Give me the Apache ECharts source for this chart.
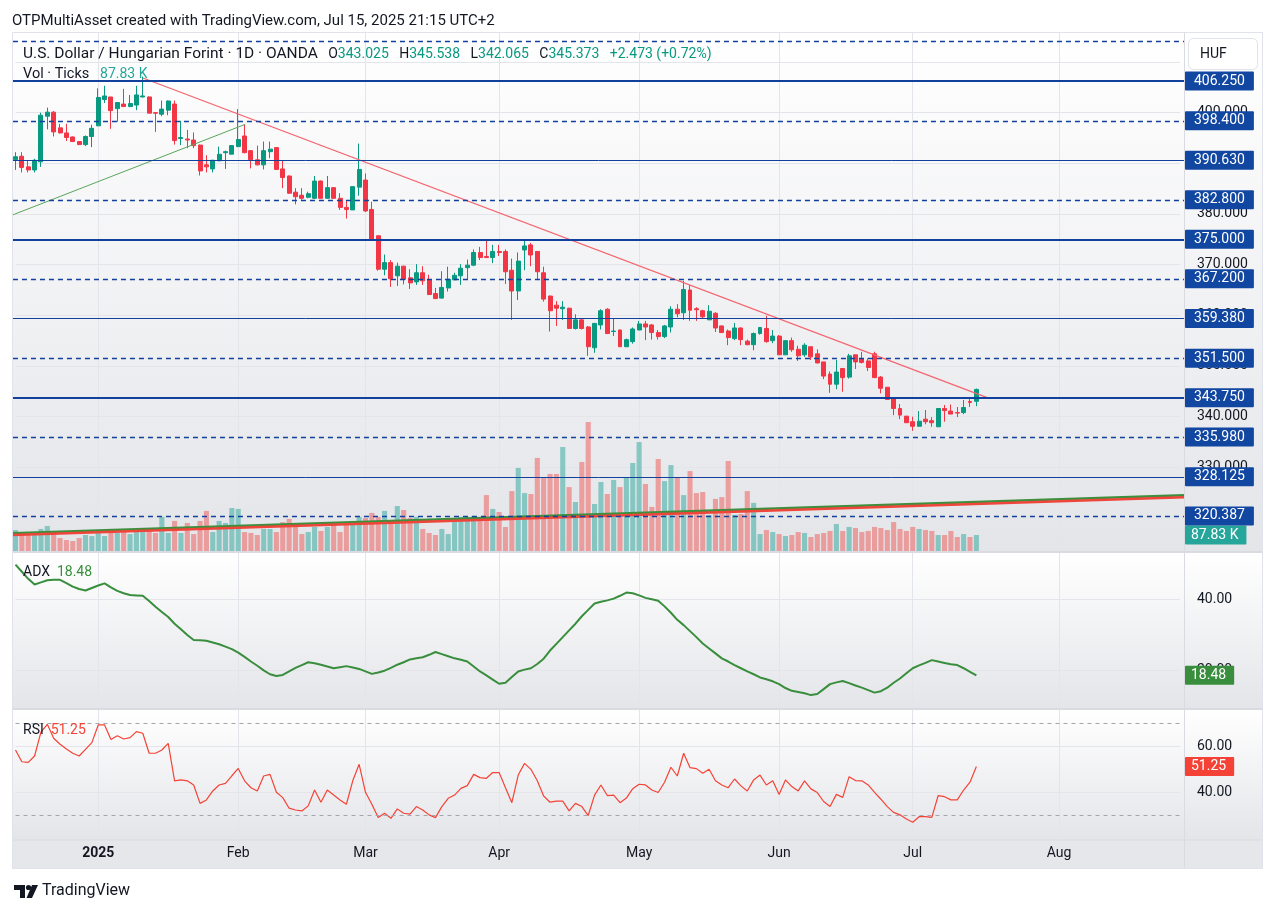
<!DOCTYPE html>
<html>
<head>
<meta charset="utf-8">
<title>USDHUF 1D</title>
<script src="https://cdn.jsdelivr.net/npm/echarts@6/dist/echarts.min.js"></script>
<style>
  html, body { margin: 0; padding: 0; background: #fff; }
  #chart { width: 1274px; height: 913px; }
</style>
</head>
<body>
<div id="chart"></div>
<script>
// trading days: weekdays between these dates, minus the days OANDA has no bar
const firstDay = '2024-12-12'
const lastDay = '2025-08-28'
const noBarDays = ['2024-12-25', '2025-01-01']
const monthTicks = ['2025', 'Feb', 'Mar', 'Apr', 'May', 'Jun', 'Jul', 'Aug', 'Sep', 'Oct', 'Nov', 'Dec']

// [open, close, low, high]
const candles = [
  [390.7, 391.3, 388.7, 392.2], [391.4, 389.2, 388.2, 392.2], [389.3, 388.7, 388.2, 390.6], [388.7, 390.6, 388.2, 390.9],
  [390.3, 399.5, 389.3, 400.0], [399.3, 400.1, 396.7, 401.0], [400.1, 396.2, 395.3, 400.3], [397.0, 396.0, 395.9, 397.8],
  [396.0, 395.1, 394.4, 397.8], [395.2, 394.3, 394.2, 395.3], [394.3, 393.7, 393.6, 394.4], [393.7, 395.3, 393.4, 395.5],
  [395.3, 396.9, 393.2, 397.6], [397.4, 403.0, 397.4, 404.8], [402.6, 403.3, 401.9, 405.3], [403.1, 400.4, 396.8, 403.1],
  [400.8, 402.0, 398.2, 402.1], [401.7, 401.2, 401.2, 404.7], [401.2, 401.8, 401.1, 403.5], [401.5, 403.5, 400.5, 405.3],
  [403.1, 403.3, 403.0, 407.1], [403.1, 399.9, 399.9, 403.2], [400.0, 399.9, 396.2, 400.1], [399.7, 400.7, 399.3, 402.4],
  [400.5, 402.3, 399.5, 402.4], [401.7, 394.5, 393.7, 402.4], [394.9, 395.1, 393.6, 398.4], [394.8, 394.6, 393.0, 396.6],
  [394.6, 393.5, 393.0, 396.1], [393.6, 388.5, 387.6, 393.7], [389.7, 389.3, 388.2, 391.6], [388.9, 390.6, 388.2, 390.7],
  [390.5, 391.8, 390.4, 393.3], [392.1, 392.3, 388.9, 392.5], [391.8, 393.5, 391.8, 393.6], [393.3, 394.7, 393.2, 400.7],
  [395.4, 392.1, 392.0, 397.7], [392.5, 390.7, 389.0, 392.6], [390.7, 389.7, 389.6, 393.5], [389.7, 392.5, 388.8, 394.3],
  [392.3, 392.8, 391.0, 394.3], [393.1, 388.8, 388.7, 393.2], [388.9, 387.2, 385.1, 390.6], [387.5, 384.1, 384.0, 387.6],
  [384.3, 383.4, 381.9, 385.1], [383.7, 383.1, 382.8, 385.1], [383.3, 384.0, 383.1, 384.4], [383.1, 386.5, 383.0, 387.5],
  [386.5, 383.1, 383.0, 386.6], [383.1, 385.2, 383.0, 387.5], [385.2, 383.1, 383.0, 385.3], [383.1, 381.3, 380.8, 384.1],
  [381.3, 380.9, 379.1, 382.7], [380.8, 385.4, 380.8, 385.4], [385.3, 388.8, 383.6, 393.9], [386.7, 380.6, 380.4, 388.0],
  [380.9, 375.0, 375.0, 382.4], [375.7, 369.1, 368.8, 375.7], [369.1, 370.4, 367.9, 372.0], [370.4, 367.2, 365.6, 370.9],
  [367.8, 369.7, 365.8, 370.4], [369.7, 367.1, 366.1, 369.8], [367.4, 366.4, 365.2, 369.1], [366.6, 368.4, 366.0, 370.1],
  [368.4, 366.8, 366.0, 369.7], [367.0, 364.1, 364.0, 368.0], [364.3, 363.3, 363.2, 365.4], [363.4, 365.5, 363.3, 368.7],
  [365.4, 367.1, 364.7, 369.6], [367.0, 367.9, 367.0, 368.4], [367.8, 369.3, 366.0, 370.1], [369.4, 369.9, 367.1, 371.0],
  [369.9, 372.4, 369.7, 373.0], [372.4, 371.4, 370.9, 373.5], [371.6, 371.4, 371.3, 375.0], [371.4, 372.6, 370.3, 373.9],
  [372.6, 372.4, 371.7, 373.9], [372.6, 368.6, 366.2, 373.0], [368.9, 364.8, 359.1, 371.2], [364.8, 370.7, 363.0, 372.4],
  [372.9, 373.7, 368.9, 374.9], [373.9, 371.9, 369.7, 374.3], [372.6, 368.6, 367.0, 372.7], [368.4, 363.2, 362.7, 369.6],
  [363.8, 360.9, 356.8, 363.9], [362.0, 361.4, 357.9, 362.8], [361.3, 361.6, 359.1, 362.8], [361.4, 357.4, 357.3, 361.5],
  [357.4, 359.1, 357.2, 360.2], [359.1, 357.4, 357.2, 359.2], [357.7, 353.8, 352.0, 357.9], [353.6, 358.4, 352.6, 358.5],
  [358.1, 360.9, 357.2, 361.2], [361.2, 356.4, 356.3, 361.4], [356.8, 356.9, 355.9, 359.3], [357.1, 353.8, 353.8, 357.2],
  [353.8, 355.2, 353.8, 355.4], [354.8, 357.3, 354.4, 357.6], [357.1, 358.3, 357.1, 358.9], [358.3, 357.7, 355.1, 358.9],
  [358.1, 356.6, 355.2, 358.3], [356.6, 355.8, 355.2, 357.1], [355.8, 357.9, 355.5, 358.1], [357.7, 361.2, 356.6, 361.8],
  [361.2, 360.3, 359.6, 362.2], [360.5, 365.1, 359.1, 366.8], [365.0, 361.0, 358.9, 366.0], [361.3, 361.1, 358.9, 361.6],
  [360.9, 359.7, 359.4, 361.1], [359.1, 360.8, 359.1, 362.0], [360.4, 357.5, 356.7, 360.6], [357.9, 356.6, 356.5, 358.0],
  [356.9, 355.6, 354.1, 357.2], [355.4, 357.5, 355.1, 358.5], [357.5, 355.2, 354.1, 357.6], [354.9, 354.2, 354.1, 355.2],
  [354.2, 356.4, 353.1, 356.6], [356.4, 357.6, 356.2, 357.6], [357.4, 354.8, 354.6, 359.9], [355.0, 355.9, 354.5, 357.1],
  [355.9, 352.2, 352.2, 356.1], [352.2, 355.0, 352.2, 355.1], [355.0, 353.2, 352.8, 355.6], [353.3, 352.0, 351.0, 354.0],
  [352.2, 354.1, 351.8, 354.5], [353.8, 351.8, 351.2, 353.8], [352.4, 350.6, 350.5, 353.3], [350.8, 348.0, 347.4, 350.8],
  [348.4, 346.4, 344.7, 348.9], [346.4, 348.8, 345.4, 351.2], [349.5, 347.7, 344.9, 349.5], [347.8, 352.0, 347.5, 352.4],
  [352.2, 350.8, 349.4, 352.2], [351.4, 350.7, 350.5, 352.8], [351.0, 349.7, 349.0, 351.5], [352.4, 347.7, 347.7, 352.8],
  [347.8, 345.6, 344.6, 348.0], [345.8, 343.4, 343.3, 345.8], [343.6, 341.6, 340.3, 343.6], [341.6, 340.3, 339.5, 342.5],
  [340.1, 338.8, 338.8, 340.1], [339.0, 338.1, 337.2, 340.0], [338.1, 339.1, 338.1, 341.1], [339.5, 339.0, 338.5, 341.3],
  [339.2, 338.8, 338.0, 339.9], [338.0, 341.6, 338.0, 341.6], [341.6, 341.2, 339.0, 342.3], [341.1, 340.5, 340.5, 342.4],
  [340.8, 340.7, 339.9, 341.9], [340.8, 341.8, 340.5, 343.3], [343.0, 342.8, 341.9, 343.8], [343.025, 345.373, 342.065, 345.538]
]

// volume, thousands of ticks
const volumes = [
  115, 93, 88, 104, 121, 137, 110, 71, 60, 55,
  71, 88, 82, 99, 82, 121, 99, 104, 93, 104,
  104, 110, 99, 187, 99, 165, 99, 154, 93, 165,
  220, 104, 165, 154, 236, 231, 104, 99, 88, 121,
  121, 104, 159, 176, 137, 93, 104, 132, 110, 132,
  159, 104, 143, 143, 187, 181, 209, 187, 220, 170,
  247, 225, 181, 187, 121, 99, 88, 121, 93, 159,
  187, 187, 192, 176, 307, 231, 214, 132, 329, 456,
  318, 313, 511, 401, 423, 423, 571, 351, 269, 489,
  708, 258, 379, 313, 390, 351, 401, 483, 598, 368,
  242, 505, 384, 472, 401, 307, 439, 318, 324, 198,
  286, 296, 494, 198, 203, 329, 264, 93, 115, 104,
  93, 82, 88, 104, 99, 77, 93, 99, 110, 148,
  110, 132, 126, 104, 110, 132, 126, 115, 159, 121,
  110, 132, 121, 115, 110, 88, 88, 110, 77, 93,
  77, 87.83
]

const adx = [
  49.8, 47.8, 45.8, 44.2, 44.8, 45.4, 45.5, 45.5, 44.6, 43.6,
  42.9, 42.5, 43.2, 43.9, 44.5, 43.4, 42.4, 41.7, 41.2, 41.1,
  41.0, 39.5, 37.9, 36.4, 35.0, 33.1, 31.5, 29.9, 28.5, 28.4,
  28.3, 27.8, 27.3, 26.6, 25.9, 24.9, 23.7, 22.4, 21.2, 19.9,
  18.8, 18.3, 18.6, 19.6, 20.6, 21.4, 22.2, 21.9, 21.5, 21.0,
  20.5, 20.8, 21.1, 20.7, 20.3, 19.6, 18.9, 19.3, 19.8, 20.6,
  21.5, 22.2, 23.0, 23.3, 23.6, 24.3, 25.1, 24.5, 23.9, 23.3,
  22.9, 22.4, 21.0, 19.6, 18.5, 17.3, 16.1, 16.4, 18.0, 19.6,
  20.1, 20.5, 21.7, 23.2, 25.5, 27.4, 29.3, 31.2, 33.1, 35.2,
  37.0, 38.8, 39.3, 39.7, 40.2, 41.0, 41.9, 41.7, 41.1, 40.4,
  40.0, 39.6, 38.0, 36.2, 34.2, 32.7, 31.0, 29.3, 27.5, 26.1,
  24.7, 23.3, 22.4, 21.4, 20.5, 19.6, 18.8, 17.9, 17.4, 16.8,
  16.0, 14.9, 14.1, 13.8, 13.4, 12.9, 13.2, 14.6, 16.0, 16.5,
  16.9, 16.3, 15.6, 15.0, 14.3, 13.6, 14.0, 15.0, 16.4, 17.6,
  19.1, 20.5, 21.3, 22.0, 22.8, 22.4, 22.0, 21.6, 21.4, 20.5,
  19.5, 18.48
]

const rsi = [
  58.4, 53.3, 53.0, 55.8, 66.2, 69.6, 63.5, 60.9, 58.8, 57.0,
  55.8, 58.7, 61.6, 69.3, 69.3, 63.0, 64.6, 63.2, 63.8, 66.4,
  65.7, 57.0, 57.0, 58.4, 61.3, 45.0, 45.4, 45.0, 43.2, 35.2,
  36.7, 40.6, 43.2, 43.9, 47.2, 50.4, 45.0, 42.0, 40.6, 47.1,
  47.8, 40.0, 37.7, 33.1, 32.3, 31.9, 34.1, 41.0, 35.7, 41.0,
  38.8, 36.7, 34.8, 45.0, 52.2, 40.0, 34.8, 29.0, 30.9, 28.7,
  32.8, 30.9, 30.5, 33.8, 32.3, 30.2, 29.0, 33.8, 37.4, 38.8,
  41.7, 42.9, 47.8, 46.4, 46.1, 48.6, 48.6, 42.0, 35.5, 47.5,
  52.6, 50.0, 45.0, 38.4, 35.7, 36.2, 36.2, 31.9, 35.2, 33.8,
  29.9, 38.8, 43.2, 38.6, 38.8, 35.5, 37.5, 41.6, 43.5, 43.2,
  41.0, 39.9, 44.4, 50.9, 47.1, 57.0, 50.7, 50.3, 48.3, 50.0,
  45.0, 43.2, 42.0, 45.8, 42.8, 40.6, 45.4, 47.5, 43.2, 45.0,
  39.1, 45.4, 42.5, 40.6, 45.0, 41.5, 39.9, 36.0, 33.8, 39.1,
  37.8, 46.8, 45.1, 45.0, 43.2, 40.0, 37.0, 33.8, 31.3, 30.2,
  28.4, 27.0, 29.4, 29.4, 29.1, 38.6, 38.1, 36.7, 36.7, 41.0,
  44.4, 51.25
]

// horizontal levels drawn on the chart
const levelsThick = [406.25, 375.0, 343.75]
const levelsThin = [390.63, 359.38, 328.125]
const levelsDashed = [414.08, 398.4, 382.8, 367.2, 351.5, 335.98, 320.387]
const hiddenLevelLabels = [414.08] // sits under the currency button
const priceTicks = [320, 330, 340, 350, 360, 370, 380, 390, 400, 410]
const adxTicks = [20, 40]
const rsiTicks = [40, 60]
const rsiBands = [70, 30]

// trend line drawings, [bar index, price]
const paneSpan = [-0.4, 183.6]
const downTrend = [[20.03, 406.85], [153.1, 343.55]]
const upTrend = [[-0.4, 379.84], [36.1, 397.7]]
const baseTrendGreen = [[-0.4, 317.0], [183.6, 324.5]]
const baseTrendRed = [[-0.4, 316.65], [183.6, 324.1]]

const FONT = 'Roboto, "Liberation Sans", "DejaVu Sans", sans-serif'
const TEXT = '#131722'
const GRID_LINE = '#e3e5ea'
const UP = '#089981'
const DOWN = '#f23645'
const LEVEL = '#12409d'
const LEVEL_LABEL = '#1146a1'
const PRICE_MIN = 313.478
const PRICE_MAX = 415.725

function buildDates() {
  const out = []
  const d = new Date(firstDay + 'T00:00:00Z')
  const end = new Date(lastDay + 'T00:00:00Z')
  while (d <= end) {
    const wd = d.getUTCDay()
    const s = d.toISOString().slice(0, 10)
    if (wd !== 0 && wd !== 6 && noBarDays.indexOf(s) < 0) out.push(s)
    d.setUTCDate(d.getUTCDate() + 1)
  }
  return out
}
const dates = buildDates()

function isMonthStart(index) {
  return index > 0 && dates[index].slice(5, 7) !== dates[index - 1].slice(5, 7)
}

function timeAxis(gridIndex, showGrid, showLabels) {
  return {
    type: 'category',
    gridIndex,
    data: dates,
    boundaryGap: false,
    axisLine: { show: false },
    axisTick: { show: false },
    axisLabel: showLabels
      ? {
          show: true,
          interval: isMonthStart,
          margin: 7,
          color: TEXT,
          fontSize: 14,
          fontFamily: FONT,
          formatter: (value) => {
            const m = Number(value.slice(5, 7))
            return m === 1 ? '{b|' + monthTicks[0] + '}' : monthTicks[m - 1]
          },
          rich: { b: { fontWeight: 'bold', fontSize: 14, color: TEXT, fontFamily: FONT } }
        }
      : { show: false },
    splitLine: { show: showGrid, interval: isMonthStart, lineStyle: { color: GRID_LINE, width: 1 } }
  }
}

function scaleAxis(gridIndex, min, max, ticks, digits) {
  return {
    type: 'value',
    gridIndex,
    position: 'right',
    min,
    max,
    axisLine: { show: false },
    axisTick: { show: false, customValues: ticks },
    axisLabel: {
      customValues: ticks,
      margin: 17,
      color: TEXT,
      fontSize: 14,
      fontFamily: FONT,
      formatter: (v) => v.toFixed(digits)
    },
    splitLine: { show: true, lineStyle: { color: GRID_LINE, width: 1 } }
  }
}

function valueTag(value, text, bg, distance) {
  return {
    yAxis: value,
    lineStyle: { color: 'rgba(0,0,0,0)' },
    label: {
      show: true,
      position: 'end',
      distance,
      formatter: text,
      backgroundColor: bg,
      color: '#ffffff',
      fontSize: 14,
      fontFamily: FONT,
      padding: [3, 8, 2, 6],
      borderRadius: 1
    }
  }
}

function levelLine(v, style) {
  return [
    {
      coord: [paneSpan[0], v],
      lineStyle: style,
      label: {
        show: hiddenLevelLabels.indexOf(v) < 0,
        position: 'end',
        distance: 1,
        formatter: v.toFixed(3),
        backgroundColor: LEVEL_LABEL,
        color: '#ffffff',
        fontSize: 14,
        fontFamily: FONT,
        padding: [3, 9, 2, 9],
        borderRadius: 1
      }
    },
    { coord: [paneSpan[1], v] }
  ]
}

const levelMarks = [].concat(
  levelsThick.map((v) => levelLine(v, { color: LEVEL, width: 2, type: 'solid' })),
  levelsThin.map((v) => levelLine(v, { color: LEVEL, width: 1, type: 'solid' })),
  levelsDashed.map((v) => levelLine(v, { color: LEVEL, width: 1.3, type: [5, 4] }))
)

function paneGradient(top, bottom) {
  return new echarts.graphic.LinearGradient(0, 0, 0, 1, [
    { offset: 0, color: top },
    { offset: 1, color: bottom }
  ])
}

function drawing(name, data, color, width, extra) {
  return Object.assign({
    name,
    type: 'line',
    xAxisIndex: 4,
    yAxisIndex: 4,
    clip: false,
    symbol: 'none',
    silent: true,
    data,
    lineStyle: { color, width }
  }, extra || {})
}

const chart = echarts.init(document.getElementById('chart'), null, { renderer: 'canvas' })

const graphic = [
  // pane backgrounds
  { type: 'rect', z: -10, shape: { x: 12, y: 33, width: 1251, height: 519 }, style: { fill: paneGradient('#ffffff', '#e4e5e9') } },
  { type: 'rect', z: -10, shape: { x: 12, y: 552, width: 1251, height: 157 }, style: { fill: paneGradient('#ffffff', '#e4e5e9') } },
  { type: 'rect', z: -10, shape: { x: 12, y: 709, width: 1251, height: 131 }, style: { fill: paneGradient('#ffffff', '#e4e5e9') } },
  { type: 'rect', z: -10, shape: { x: 12, y: 840, width: 1251, height: 29 }, style: { fill: '#e6e7ea' } },
  // separators and frame
  { type: 'line', z: 50, shape: { x1: 12, y1: 552, x2: 1263, y2: 552 }, style: { stroke: '#d9dbe1', lineWidth: 2 } },
  { type: 'line', z: 50, shape: { x1: 12, y1: 709, x2: 1263, y2: 709 }, style: { stroke: '#d9dbe1', lineWidth: 2 } },
  { type: 'line', z: 50, shape: { x1: 12, y1: 840, x2: 1263, y2: 840 }, style: { stroke: '#d9dbe1', lineWidth: 1 } },
  { type: 'line', z: 50, shape: { x1: 1184.5, y1: 33, x2: 1184.5, y2: 869 }, style: { stroke: '#d9dbe1', lineWidth: 1 } },
  { type: 'rect', z: 50, shape: { x: 12.5, y: 32.5, width: 1250, height: 836 }, style: { fill: 'none', stroke: '#e0e3eb', lineWidth: 1 } },
  // header
  {
    type: 'text', z: 100, x: 12, y: 21,
    style: { text: 'OTPMultiAsset created with TradingView.com, Jul 15, 2025 21:15 UTC+2', font: '15px ' + FONT, fill: TEXT, verticalAlign: 'middle' }
  },
  {
    type: 'text', z: 100, x: 23, y: 54,
    style: {
      text: '{t|U.S. Dollar / Hungarian Forint · 1D · OANDA}{d|   O}{g|343.025}{d|   H}{g|345.538}{d|   L}{g|342.065}{d|   C}{g|345.373}{g|   +2.473 (+0.72%)}',
      font: '14px ' + FONT,
      verticalAlign: 'middle',
      rich: {
        t: { fill: TEXT, fontSize: 15.5, fontFamily: FONT },
        d: { fill: TEXT, fontSize: 14, fontFamily: FONT },
        g: { fill: UP, fontSize: 14, fontFamily: FONT }
      }
    }
  },
  {
    type: 'text', z: 100, x: 23, y: 74,
    style: {
      text: '{d|Vol · Ticks   }{g|87.83 K}',
      font: '14px ' + FONT,
      verticalAlign: 'middle',
      rich: {
        d: { fill: TEXT, fontSize: 14.5, fontFamily: FONT },
        g: { fill: '#26a69a', fontSize: 14, fontFamily: FONT }
      }
    }
  },
  {
    type: 'text', z: 100, x: 23, y: 572,
    style: {
      text: '{d|ADX  }{g|18.48}',
      font: '14px ' + FONT,
      verticalAlign: 'middle',
      rich: {
        d: { fill: TEXT, fontSize: 14, fontFamily: FONT },
        g: { fill: '#388e3c', fontSize: 14, fontFamily: FONT }
      }
    }
  },
  {
    type: 'text', z: 100, x: 23, y: 730,
    style: {
      text: '{d|RSI  }{g|51.25}',
      font: '14px ' + FONT,
      verticalAlign: 'middle',
      rich: {
        d: { fill: TEXT, fontSize: 14, fontFamily: FONT },
        g: { fill: '#f44336', fontSize: 14, fontFamily: FONT }
      }
    }
  },
  // currency button
  { type: 'rect', z: 100, shape: { x: 1188.5, y: 38.5, width: 69, height: 31, r: 5 }, style: { fill: '#ffffff', stroke: '#e0e3eb', lineWidth: 1 } },
  { type: 'text', z: 101, x: 1200, y: 54, style: { text: 'HUF', font: '14px ' + FONT, fill: TEXT, verticalAlign: 'middle' } },
  // footer logo
  { type: 'polygon', z: 100, shape: { points: [[14, 885], [25, 885], [25, 898], [20, 898], [20, 890], [14, 890]] }, style: { fill: TEXT } },
  { type: 'circle', z: 100, shape: { cx: 28.5, cy: 887.5, r: 2.6 }, style: { fill: TEXT } },
  { type: 'polygon', z: 100, shape: { points: [[32, 885], [38, 885], [32, 898], [26.5, 898]] }, style: { fill: TEXT } },
  { type: 'text', z: 100, x: 42, y: 891, style: { text: 'TradingView', font: '16px ' + FONT, fill: TEXT, verticalAlign: 'middle' } }
]

const option = {
  animation: false,
  backgroundColor: '#ffffff',
  textStyle: { fontFamily: FONT },
  graphic,
  grid: [
    { left: 15.5, right: 94, top: 33, bottom: 362 },
    { left: 15.5, right: 94, top: 33, bottom: 362 },
    { left: 15.5, right: 94, top: 553, bottom: 205 },
    { left: 15.5, right: 94, top: 710, bottom: 74 },
    // drawings layer: same price scale, x in bar units, spanning the whole pane
    { left: 12.636, right: 89.7, top: 33, bottom: 362 }
  ],
  xAxis: [
    timeAxis(0, true, false),
    timeAxis(1, false, false),
    timeAxis(2, true, false),
    timeAxis(3, true, true),
    { type: 'value', gridIndex: 4, min: -0.45, max: 183.65, show: false }
  ],
  yAxis: [
    scaleAxis(0, PRICE_MIN, PRICE_MAX, priceTicks, 3),
    { type: 'value', gridIndex: 1, min: 0, max: 2844, show: false },
    scaleAxis(2, 9.25, 53.1, adxTicks, 2),
    scaleAxis(3, 19.7, 75.8, rsiTicks, 2),
    { type: 'value', gridIndex: 4, min: PRICE_MIN, max: PRICE_MAX, show: false }
  ],
  series: [
    {
      name: 'Volume',
      type: 'bar',
      xAxisIndex: 1,
      yAxisIndex: 1,
      barWidth: '80%',
      clip: false,
      data: volumes.map((v, i) => ({
        value: v,
        itemStyle: { color: candles[i][1] >= candles[i][0] ? 'rgba(38,166,154,0.5)' : 'rgba(239,83,80,0.5)' }
      })),
      markLine: {
        silent: true,
        symbol: ['none', 'none'],
        data: [valueTag(volumes[volumes.length - 1], '87.83 K', '#26a69a', 5)]
      }
    },
    drawing('base green', baseTrendGreen, '#3d8f3d', 2.5),
    drawing('base red', baseTrendRed, '#f0453a', 2.5),
    drawing('up trend', upTrend, '#5aa55a', 1),
    drawing('down trend', downTrend, '#f5646e', 1.2, {
      markLine: {
        silent: true,
        symbol: ['none', 'none'],
        data: levelMarks
      }
    }),
    {
      name: 'USDHUF',
      type: 'candlestick',
      xAxisIndex: 0,
      yAxisIndex: 0,
      barWidth: '70%',
      clip: false,
      data: candles,
      itemStyle: { color: UP, color0: DOWN, borderColor: UP, borderColor0: DOWN, borderWidth: 1 }
    },
    {
      name: 'ADX',
      type: 'line',
      xAxisIndex: 2,
      yAxisIndex: 2,
      symbol: 'none',
      data: adx,
      lineStyle: { color: '#388e3c', width: 2 },
      markLine: {
        silent: true,
        symbol: ['none', 'none'],
        data: [valueTag(adx[adx.length - 1], '18.48', '#388e3c', 5)]
      }
    },
    {
      name: 'RSI',
      type: 'line',
      xAxisIndex: 3,
      yAxisIndex: 3,
      symbol: 'none',
      data: rsi,
      lineStyle: { color: '#f44336', width: 1.2 },
      markLine: {
        silent: true,
        symbol: ['none', 'none'],
        data: rsiBands
          .map((v) => ({ yAxis: v, lineStyle: { color: '#a3a6af', width: 1, type: [4, 4] }, label: { show: false } }))
          .concat([valueTag(rsi[rsi.length - 1], '51.25', '#f44336', 5)])
      }
    }
  ]
}

chart.setOption(option)
</script>
</body>
</html>
